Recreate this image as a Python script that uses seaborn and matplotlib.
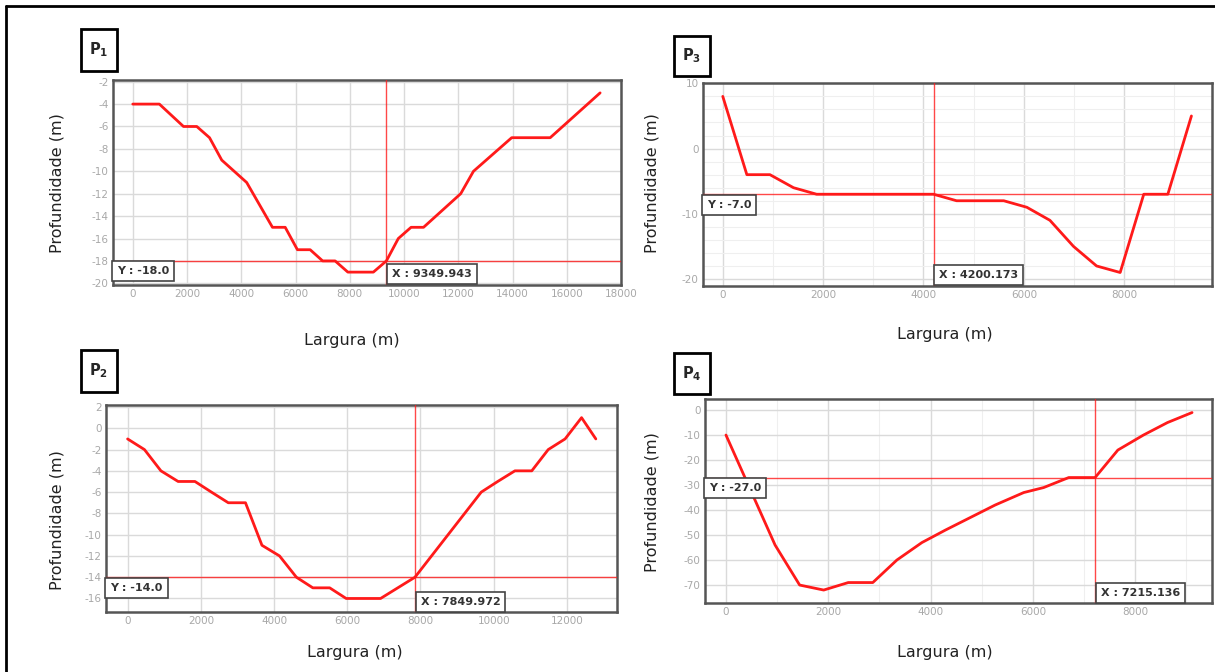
import matplotlib
matplotlib.use("Agg")
import matplotlib.pyplot as plt
import matplotlib.ticker as mticker
import matplotlib.transforms as mtrans
from matplotlib.lines import Line2D
from matplotlib.patches import Rectangle
import pandas as pd
import seaborn as sns

# ── Data ───────────────────────────────────────────────────────────────────────
P1_X = [0, 980, 1870, 2360, 2830, 3280, 4200, 5150, 5620, 6070, 6540, 7000,
        7460, 7930, 8870, 9350, 9790, 10260, 10720, 12090, 12560, 13970, 15390, 17230]
P1_Y = [-4, -4, -6, -6, -7, -9, -11, -15, -15, -17, -17, -18,
        -18, -19, -19, -18, -16, -15, -15, -12, -10, -7, -7, -3]

P3_X = [0, 480, 940, 1410, 1870, 4200, 4660, 5600, 6060, 6520, 6990, 7450,
        7920, 8390, 8870, 9340]
P3_Y = [8, -4, -4, -6, -7, -7, -8, -8, -9, -11, -15, -18, -19, -7, -7, 5]

P2_X = [0, 460, 910, 1380, 1840, 2290, 2750, 3220, 3670, 4150, 4610, 5060,
        5520, 5970, 6910, 7850, 9660, 10110, 10580, 11040, 11490, 11950, 12400, 12790]
P2_Y = [-1, -2, -4, -5, -5, -6, -7, -7, -11, -12, -14, -15,
        -15, -16, -16, -14, -6, -5, -4, -4, -2, -1, 1, -1]

P4_X = [0, 960, 1440, 1910, 2390, 2870, 3340, 3830, 4290, 5260, 5820, 6210,
        6700, 7215, 7660, 8160, 8630, 9110]
P4_Y = [-10, -54, -70, -72, -69, -69, -60, -53, -48, -38, -33, -31,
        -27, -27, -16, -10, -5, -1]

CURSOR_X = [9349.943, 4200.173, 7849.972, 7215.136]
CURSOR_Y = [-18.0, -7.0, -14.0, -27.0]
PANEL_NAMES = ["1", "3", "2", "4"]

# ── Setup ──────────────────────────────────────────────────────────────────────
W, H = 1215, 672
sns.set_style("white")
plt.rcParams.update({"axes.unicode_minus": False, "font.family": ["DejaVu Sans"]})

fig = plt.figure(figsize=(W / 100, H / 100), dpi=100)
fig.patch.set_facecolor("white")

RED = "#ff1a1a"
GRID_MAJ = "#dadada"
GRID_MIN = "#efefef"


def px_box(left, top, right, bottom):
    return [left / W, 1 - bottom / H, (right - left) / W, (bottom - top) / H]


def draw_panel(rect, xs, ys, cx, cy, xlim, ylim, xmaj, ymaj, xmin=None, ymin=None):
    ax = fig.add_axes(rect)
    df = pd.DataFrame({"largura": xs, "profundidade": ys})
    sns.lineplot(data=df, x="largura", y="profundidade", sort=False,
                 estimator=None, color=RED, lw=2, ax=ax, zorder=4)
    ax.set_xlim(*xlim)
    ax.set_ylim(*ylim)
    ax.xaxis.set_major_locator(mticker.MultipleLocator(xmaj))
    ax.yaxis.set_major_locator(mticker.MultipleLocator(ymaj))
    if xmin:
        ax.xaxis.set_minor_locator(mticker.MultipleLocator(xmin))
    if ymin:
        ax.yaxis.set_minor_locator(mticker.MultipleLocator(ymin))
    ax.grid(True, which="major", color=GRID_MAJ, lw=1)
    ax.grid(True, which="minor", color=GRID_MIN, lw=0.8)
    ax.set_axisbelow(True)
    ax.tick_params(which="both", length=0, labelsize=7.5, labelcolor="#a8a8a8", pad=3)
    ax.set_xlabel("")
    ax.set_ylabel("")
    for s in ax.spines.values():
        s.set_color("#555555")
        s.set_linewidth(1.8)

    # cursor cross-hair
    ax.axvline(cx, color=RED, lw=1, alpha=0.8, zorder=3)
    ax.axhline(cy, color=RED, lw=1, alpha=0.8, zorder=3)
    box = dict(boxstyle="square,pad=0.45", fc="white", ec="#444444", lw=1.2)
    ax.annotate(f"Y : {cy:.1f}", xy=(0, cy),
                xycoords=mtrans.blended_transform_factory(ax.transAxes, ax.transData),
                xytext=(3, -4), textcoords="offset points", ha="left", va="top",
                fontsize=8, color="#333333", fontweight="bold", bbox=box, zorder=6)
    ax.annotate(f"X : {cx:.3f}", xy=(cx, 0),
                xycoords=mtrans.blended_transform_factory(ax.transData, ax.transAxes),
                xytext=(4, 4), textcoords="offset points", ha="left", va="bottom",
                fontsize=8, color="#333333", fontweight="bold", bbox=box, zorder=6)
    return ax


# ── Panels ─────────────────────────────────────────────────────────────────────
draw_panel(px_box(112.7, 80, 621, 285), P1_X, P1_Y, CURSOR_X[0], CURSOR_Y[0],
           (-740, 18000), (-20.15, -1.85), 2000, 2)
draw_panel(px_box(702.7, 82.7, 1212, 286), P3_X, P3_Y, CURSOR_X[1], CURSOR_Y[1],
           (-400, 9750), (-21.07, 10.1), 2000, 10, 1000, 2)
draw_panel(px_box(106, 405, 616.7, 612.3), P2_X, P2_Y, CURSOR_X[2], CURSOR_Y[2],
           (-590, 13360), (-17.3, 2.19), 2000, 2)
draw_panel(px_box(705, 399.3, 1212, 603.3), P4_X, P4_Y, CURSOR_X[3], CURSOR_Y[3],
           (-410, 9500), (-77.3, 4.3), 2000, 10, 1000)

# axis titles
for (xc, yc) in [(57, 183), (652, 183), (57, 520), (652, 502)]:
    fig.text(xc / W, 1 - yc / H, "Profundidade (m)", rotation=90, ha="center",
             va="center", fontsize=11.5, color="#222222")
for (xc, yc) in [(352, 341), (945, 335), (355, 652), (945, 652)]:
    fig.text(xc / W, 1 - yc / H, "Largura (m)", ha="center", va="center",
             fontsize=11.5, color="#222222")

# panel tags
for name, (l, t, r, b) in zip(PANEL_NAMES, [(81, 29, 117, 71), (674, 36, 710, 76),
                                           (81, 350, 117, 392), (674, 353, 710, 394)]):
    fig.add_artist(Rectangle((l / W, 1 - b / H), (r - l) / W, (b - t) / H,
                             transform=fig.transFigure, fc="white", ec="black", lw=2))
    fig.text((l + r) / 2 / W, 1 - (t + b) / 2 / H, rf"$\mathbf{{P}}_\mathbf{{{name}}}$",
             ha="center", va="center", fontsize=10.5)

# outer frame (top and left edges)
fig.add_artist(Line2D([6 / W, 1], [1 - 6 / H, 1 - 6 / H], transform=fig.transFigure,
                      color="black", lw=2))
fig.add_artist(Line2D([6 / W, 6 / W], [0, 1 - 6 / H], transform=fig.transFigure,
                      color="black", lw=2))

fig.savefig("out.png", dpi=100)
